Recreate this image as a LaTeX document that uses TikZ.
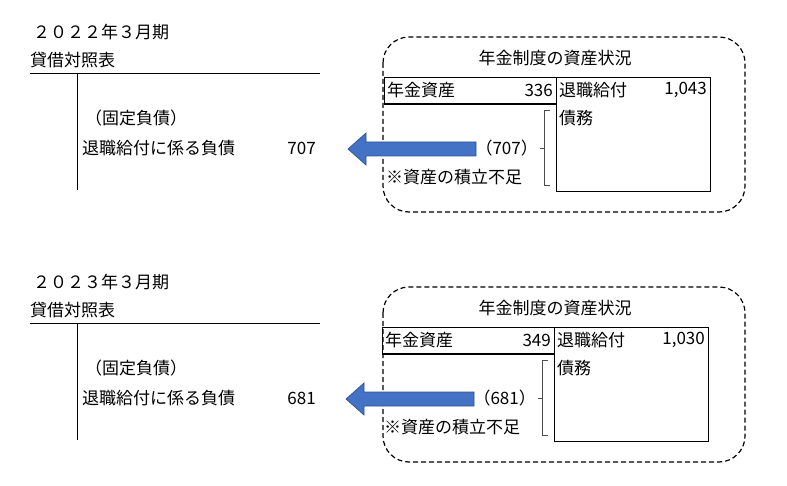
\documentclass[tikz,border=0pt]{standalone}
\usepackage{fontspec}
\setmainfont{Noto Sans CJK JP}
\begin{document}
\begin{tikzpicture}[x=1pt,y=-1pt,font=\fontsize{17}{19}\selectfont,
  txt/.style={inner sep=0pt},
  ln/.style={line width=0.8pt},
  dashbox/.style={line width=1.2pt,dash pattern=on 5pt off 3pt,rounded corners=26pt}]
\useasboundingbox (0,0) rectangle (787,486);
\definecolor{arrfill}{HTML}{4472C4}
\definecolor{arrline}{HTML}{2F528F}
\foreach \oy/\yr/\liab/\asset/\obl/\ox in {0/２０２２/707/336/{1,043}/0, 250/２０２３/681/349/{1,030}/-2}{
\begin{scope}[yshift=-\oy]
\node[txt,anchor=west] (yr\oy) at (33,32) {\yr 年３月期};
\node[txt,anchor=west] (bs\oy) at (30,60) {貸借対照表};
\coordinate (hl\oy) at (30,73); \coordinate (hr\oy) at (320,73);
\draw[ln] (hl\oy) -- (hr\oy);
\coordinate (vt\oy) at (77,73); \coordinate (vb\oy) at (77,190);
\draw[ln] (vt\oy) -- (vb\oy);
\node[txt,anchor=west] (fx\oy) at (85,118) {（固定負債）};
\node[txt,anchor=west] (rl\oy) at (82,148) {退職給付に係る負債};
\node[txt,anchor=east] (lv\oy) at (316,148) {\liab};
\draw[dashbox] (383,37) rectangle (745,212);
\node[txt] (tt\oy) at (555,58) {年金制度の資産状況};
\begin{scope}[xshift=\ox]
\draw[ln] (384,77) rectangle (556,104);
\draw[line width=1.4pt] (384,104) -- (556,104);
\draw[ln] (556,77) -- (710,77) -- (710,191) -- (556,191) -- (556,77);
\node[txt,anchor=west] (pa\oy) at (387,90) {年金資産};
\node[txt,anchor=east] (pv\oy) at (553,90) {\asset};
\node[txt,anchor=west] (ob\oy) at (559,90) {退職給付};
\node[txt,anchor=east] (ov\oy) at (707,90) {\obl};
\node[txt,anchor=west] (ob2\oy) at (559,118) {債務};
\draw[gray!60!black,line width=0.7pt] (550,110) -- (544,110) -- (544,185) -- (550,185) (544,148) -- (540,148);
\node[txt,anchor=east] (df\oy) at (538,148) {（\liab）};
\node[txt,anchor=west] (sh\oy) at (386,177) {※資産の積立不足};
\fill[arrfill,draw=arrline,line width=0.7pt] (476,142) -- (366,142) -- (366,133) -- (348,149) -- (366,165) -- (366,156) -- (476,156) -- cycle;
\end{scope}
\end{scope}}
\end{tikzpicture}
\end{document}
